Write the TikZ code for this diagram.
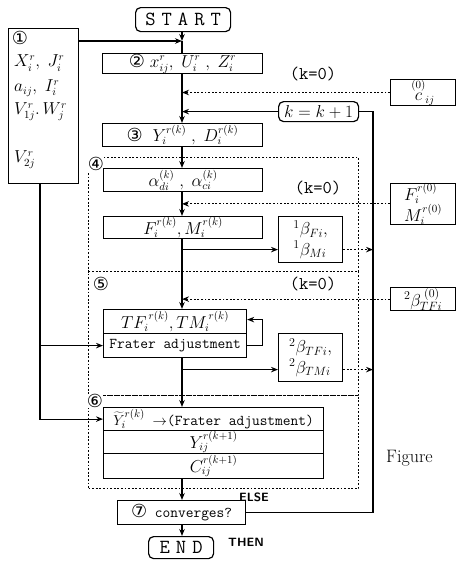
\documentclass[tikz,border=0pt]{standalone}
\usepackage{fontspec}
\newfontfamily\djv{DejaVu Sans}
\usetikzlibrary{arrows.meta,calc}
\newcommand{\cn}[1]{{\djv\fontsize{18}{18}\selectfont #1}}
\begin{document}
\begin{tikzpicture}[x=1pt,y=-1pt,
  box/.style={draw, line width=1.2pt, inner sep=0pt, anchor=north west, font=\fontsize{16}{16}\selectfont},
  rbox/.style={box, rounded corners=5pt},
  region/.style={draw, line width=1pt, dash pattern=on 1.8pt off 1.8pt, inner sep=0pt, anchor=north west},
  arr/.style={line width=1.2pt, -{Stealth[length=7pt,width=5.5pt]}},
  darr/.style={line width=1.1pt, dash pattern=on 1.8pt off 1.8pt, -{Stealth[length=7pt,width=5.5pt]}},
  ln/.style={line width=1.2pt},
  tt/.style={font=\ttfamily\fontsize{15}{15}\selectfont},
  txt/.style={inner sep=0pt, anchor=west, font=\fontsize{16}{16}\selectfont},
  circ/.style={inner sep=0pt, font=\djv\fontsize{18}{18}\selectfont},
  lab/.style={inner sep=0pt, font=\sffamily\bfseries\fontsize{12}{12}\selectfont}
]
\useasboundingbox (0,0) rectangle (455,562);

% regions
\node[region, minimum width=270pt, minimum height=114pt] (r4) at (88,157) {};
\node[region, minimum width=270pt, minimum height=124pt] (r5) at (88,271) {};
\node[region, minimum width=270pt, minimum height=93pt] (r6) at (88,395) {};
\node[circ, fill=white] (c4) at (96,164) {④};
\node[circ] (c5) at (101,284) {⑤};
\node[circ, fill=white] (c6) at (95,401) {⑥};

% boxes
\node[rbox, minimum width=95pt, minimum height=24pt, font=\ttfamily\fontsize{20}{20}\selectfont] (start) at (135,7) {S\hspace{6pt}T\hspace{6pt}A\hspace{6pt}R\hspace{6pt}T};
\node[box, minimum width=70pt, minimum height=155pt] (one) at (8,28) {};
\node[circ] (c1) at (20,38) {①};
\node[txt] (o1) at (14,63) {$X^r_i,\ J^r_i$};
\node[txt] (o2) at (14,88) {$a_{ij},\ I^r_i$};
\node[txt] (o3) at (14,112) {$V^r_{1j}.\,W^r_j$};
\node[txt] (o4) at (14,160) {$V^r_{2j}$};

\node[box, minimum width=160pt, minimum height=20pt] (b2) at (102,53) {\cn{②}\ $x^r_{ij},\ U^r_i\ ,\ Z^r_i$};
\node[box, minimum width=65pt, minimum height=19pt] (c0) at (390,79) {$\stackrel{(0)}{c}_{ij}$};
\node[rbox, minimum width=80pt, minimum height=20pt, font=\fontsize{18}{18}\selectfont] (kk) at (278,101) {$k=k+1$};
\node[box, minimum width=160pt, minimum height=23pt] (b3) at (102,123) {\cn{③}\ \ $Y^{r(k)}_i\ ,\ D^{r(k)}_i$};

\node[box, minimum width=159pt, minimum height=23pt] (ba) at (103,168) {$\alpha^{(k)}_{di}\ ,\ \alpha^{(k)}_{ci}$};
\node[box, minimum width=65pt, minimum height=39pt, align=left] (fm0) at (390,183) {$F^{r(0)}_i$\\[0pt]$M^{r(0)}_i$};
\node[box, minimum width=159pt, minimum height=22pt] (fm) at (103,216) {$F^{r(k)}_i,M^{r(k)}_i$};
\node[box, minimum width=64pt, minimum height=46pt, align=left, font=\fontsize{17}{17}\selectfont] (be1) at (278,216) {${}^1\beta_{Fi},$\\[2pt]${}^1\beta_{Mi}$};

\node[box, minimum width=65pt, minimum height=23pt, font=\fontsize{17}{17}\selectfont] (bt0) at (390,287) {${}^2\beta^{\;(0)}_{TFi}$};
\node[box, minimum width=143pt, minimum height=24pt] (tf1) at (103,309) {$TF_i^{\,r(k)},TM_i^{\,r(k)}$};
\node[box, minimum width=143pt, minimum height=24pt, tt] (tf2) at (103,333) {Frater adjustment};
\node[box, minimum width=64pt, minimum height=48pt, align=left, font=\fontsize{17}{17}\selectfont] (be2) at (278,333) {${}^2\beta_{TFi},$\\[2pt]${}^2\beta_{TMi}$};

\node[box, minimum width=220pt, minimum height=23pt, tt] (y6a) at (103,407) {$\widetilde{Y}^{r(k)}_i$ $\to$(Frater adjustment)};
\node[box, minimum width=220pt, minimum height=23pt] (y6b) at (103,430) {$Y^{r(k+1)}_{ij}$};
\node[box, minimum width=220pt, minimum height=25pt] (y6c) at (103,453) {$C^{r(k+1)}_{ij}$};

\node[box, minimum width=128pt, minimum height=24pt, tt] (conv) at (117,500) {\cn{⑦} converges?};
\node[rbox, minimum width=65pt, minimum height=22pt, font=\ttfamily\fontsize{20}{20}\selectfont] (end) at (148,536) {E\hspace{6pt}N\hspace{6pt}D};

% labels
\node[inner sep=0pt, font=\ttfamily\fontsize{18}{18}\selectfont] (k0a) at (313,74) {(k=0)};
\node[inner sep=0pt, font=\ttfamily\fontsize{18}{18}\selectfont] (k0b) at (318,188) {(k=0)};
\node[inner sep=0pt, font=\ttfamily\fontsize{18}{18}\selectfont] (k0c) at (313,284) {(k=0)};
\node[lab] (else) at (254,497) {ELSE};
\node[lab] (then) at (246,542) {THEN};
\node[inner sep=0pt, anchor=west, font=\fontsize{18}{18}\selectfont] (fig) at (386,458) {Figure};

\coordinate (mx) at (182,0);
\coordinate (lx) at (373,0);
\coordinate (j1) at (182,41);

% main flow
\draw[arr] (start.south -| mx) -- (j1);
\draw[ln] (j1) -- (b2.north -| mx);
\draw[arr] (one.east |- j1) -- (j1);
\draw[arr] (b2.south -| mx) -- (b3.north -| mx);
\draw[darr] (c0.west) -- (c0.west -| mx);
\draw[arr] (kk.west) -- (kk.west -| mx);
\draw[arr] (b3.south -| mx) -- (ba.north -| mx);
\draw[arr] (ba.south -| mx) -- (fm.north -| mx);
\draw[darr] (fm0.west) -- (fm0.west -| mx);
\draw[arr] (fm.south -| mx) -- (tf1.north -| mx);
\draw[arr] ([yshift=-10pt]be1.west -| mx) -- ([yshift=-10pt]be1.west);
\draw[darr] ([yshift=-10pt]be1.east) -- ([yshift=-10pt]be1.east -| lx);
\draw[darr] (bt0.west) -- (bt0.west -| mx);
\draw[arr] (tf2.east) -- ++(15,0) |- ([yshift=2pt]tf1.east);
\draw[arr] (tf2.south -| mx) -- (y6a.north -| mx);
\draw[arr] ([yshift=-12pt]be2.west -| mx) -- ([yshift=-12pt]be2.west);
\draw[darr] ([yshift=-12pt]be2.east) -- ([yshift=-12pt]be2.east -| lx);
\draw[arr] (one.south -| 40,0) |- (tf2.west);
\draw[arr] (40,345) |- (y6a.west);
\draw[arr] (y6c.south -| mx) -- (conv.north -| mx);
\draw[arr] (conv.south -| mx) -- (end.north -| mx);
\draw[ln] (conv.east) -| (lx |- kk.east) -- (kk.east);
\end{tikzpicture}
\end{document}
